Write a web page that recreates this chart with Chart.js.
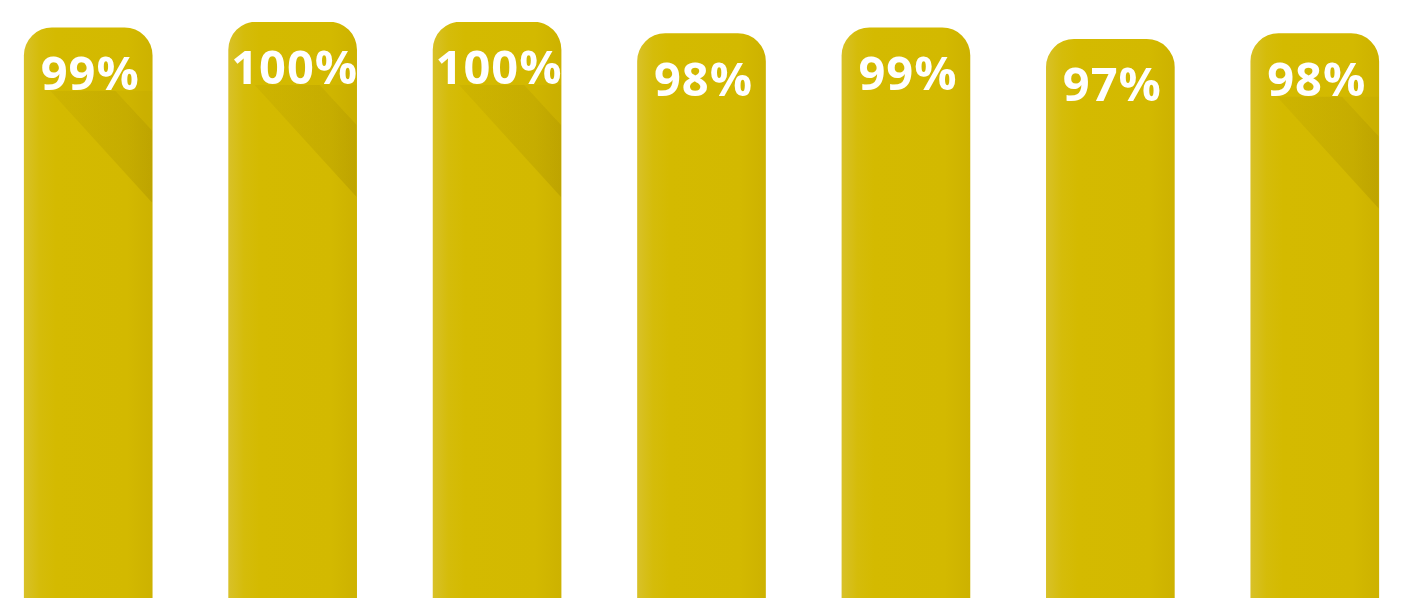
<!DOCTYPE html>
<html>
<head>
<meta charset="utf-8">
<script src="https://cdn.jsdelivr.net/npm/chart.js@4.4.1/dist/chart.umd.min.js"></script>
<style>
  html, body { margin: 0; padding: 0; background: #ffffff; overflow: hidden; }
  #wrap { position: absolute; left: -14px; top: 0; width: 1431px; height: 600px; }
</style>
</head>
<body>
<div id="wrap"><canvas id="c"></canvas></div>
<script>
const categories = ['1', '2', '3', '4', '5', '6', '7'];
const values = [99, 100, 100, 98, 99, 97, 98];
const labels = ['99%', '100%', '100%', '98%', '99%', '97%', '98%'];
const folded = [true, true, true, false, false, false, true];

function barFill(ctx) {
  const chart = ctx.chart;
  const xs = chart.scales && chart.scales.x;
  if (!xs || ctx.dataIndex === undefined) return '#d4ba00';
  const cx = xs.getPixelForValue(ctx.dataIndex);
  if (!isFinite(cx)) return '#d4ba00';
  const g = chart.ctx.createLinearGradient(cx - 64, 0, cx + 64, 0);
  g.addColorStop(0, '#d8c128');
  g.addColorStop(0.12, '#d5bc0a');
  g.addColorStop(0.25, '#d4ba00');
  g.addColorStop(0.8, '#d3b900');
  g.addColorStop(1, '#cdb200');
  return g;
}

const decor = {
  id: 'decor',
  afterDatasetsDraw(chart) {
    const c = chart.ctx;
    const meta = chart.getDatasetMeta(0);
    meta.data.forEach((bar, i) => {
      const left = bar.x - bar.width / 2;
      const right = bar.x + bar.width / 2;
      const top = bar.y;
      const y0 = top + 63;
      if (folded[i]) {
        c.save();
        c.beginPath();
        c.rect(left, y0, bar.width, bar.base - y0);
        c.clip();
        c.beginPath();
        c.moveTo(left + 91, y0);
        c.lineTo(right, y0);
        c.lineTo(right, y0 + 40);
        c.closePath();
        c.fillStyle = 'rgba(120,100,0,0.04)';
        c.fill();
        const g = c.createLinearGradient(left + 26, 0, right, 0);
        g.addColorStop(0, 'rgba(110,90,0,0.06)');
        g.addColorStop(1, 'rgba(90,70,0,0.13)');
        c.beginPath();
        c.moveTo(left + 26, y0);
        c.lineTo(left + 91, y0);
        c.lineTo(right, y0 + 40);
        c.lineTo(right, y0 + 112);
        c.closePath();
        c.fillStyle = g;
        c.fill();
        c.restore();
      }
      c.save();
      c.fillStyle = '#ffffff';
      c.font = 'bold 47px "Open Sans", "DejaVu Sans", sans-serif';
      c.letterSpacing = '1px';
      c.textAlign = 'center';
      c.textBaseline = 'alphabetic';
      c.fillText(labels[i], bar.x + 2, top + 62);
      c.restore();
    });
  }
};

new Chart(document.getElementById('c'), {
  type: 'bar',
  data: {
    labels: categories,
    datasets: [{
      data: values,
      backgroundColor: barFill,
      borderWidth: 0,
      borderSkipped: 'bottom',
      borderRadius: { topLeft: 28, topRight: 28, bottomLeft: 0, bottomRight: 0 },
      barThickness: 128
    }]
  },
  options: {
    responsive: true,
    maintainAspectRatio: false,
    animation: false,
    events: [],
    layout: { padding: { top: 22, bottom: 2, left: 0, right: 0 } },
    plugins: { legend: { display: false }, tooltip: { enabled: false } },
    scales: {
      x: { display: false, offset: true, grid: { display: false } },
      y: { display: false, min: 0, max: 100, grid: { display: false } }
    }
  },
  plugins: [decor]
});
</script>
</body>
</html>
